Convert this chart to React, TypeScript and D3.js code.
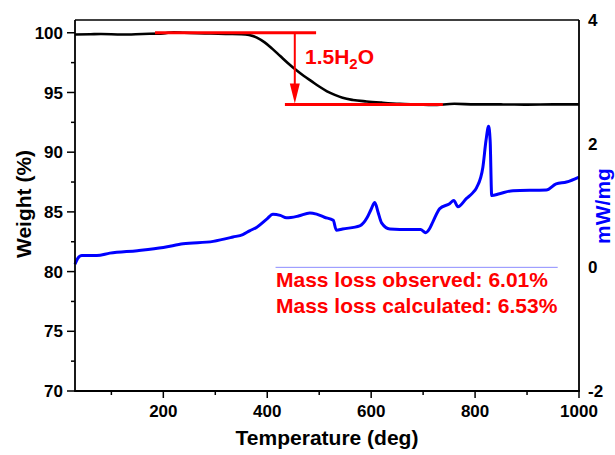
import React from "react";
import * as d3 from "d3";

const tgaTemp = [30, 60, 80, 120, 160, 200, 220, 240, 280, 320, 350, 365, 380, 395, 410, 425, 440, 455, 470, 485, 500, 515, 530, 545, 565, 591, 620, 655, 690, 718, 760, 800, 850, 900, 950, 1000];
const tgaWeight = [99.85, 99.88, 99.9, 99.85, 99.9, 99.95, 100.05, 100.0, 99.95, 99.9, 99.88, 99.82, 99.6, 99.2, 98.65, 98.05, 97.45, 96.9, 96.4, 95.95, 95.5, 95.1, 94.8, 94.55, 94.37, 94.25, 94.15, 94.05, 94.0, 93.95, 94.05, 94.0, 94.0, 93.98, 94.0, 94.0];

const dscTemp = [30, 35, 43, 72, 97, 150, 200, 238, 296, 334, 353, 366, 380, 399, 411, 425, 437, 460, 482, 495, 510, 527, 533, 545, 578, 592, 600, 607, 613, 620, 636, 674, 695, 705, 712, 719, 732, 751, 759, 767, 783, 795, 803, 815, 821, 826, 829, 832, 847, 873, 937, 956, 976, 1000];
const dscValue = [0.05, 0.14, 0.19, 0.19, 0.23, 0.27, 0.32, 0.38, 0.42, 0.49, 0.53, 0.59, 0.65, 0.78, 0.86, 0.84, 0.8, 0.83, 0.88, 0.86, 0.81, 0.76, 0.6, 0.62, 0.67, 0.8, 0.94, 1.05, 0.9, 0.72, 0.62, 0.61, 0.61, 0.56, 0.62, 0.74, 0.95, 1.03, 1.08, 0.98, 1.11, 1.2, 1.29, 1.62, 2.05, 2.28, 2.05, 1.16, 1.19, 1.24, 1.25, 1.35, 1.38, 1.46];

const xTicks = [200, 400, 600, 800, 1000];
const xMinor = [100, 300, 500, 700, 900];
const yTicks = [70, 75, 80, 85, 90, 95, 100];
const yMinor = [72.5, 77.5, 82.5, 87.5, 92.5, 97.5];
const y2Ticks = [-2, 0, 2, 4];

const waterLabel = ["1.5H", "2", "O"];
const massLossLines = ["Mass loss observed: 6.01%", "Mass loss calculated: 6.53%"];
const stepTop = { t0: 184, t1: 494, w: 100 };
const stepBottom = { t0: 434, t1: 738, w: 94.0 };
const arrowT = 453;
const refLine = { t0: 416, t1: 959, v: 0 };

const W = 615;
const H = 455;
const M = { left: 75, top: 20, right: 36, bottom: 64 };
const FONT = "Arial, 'Liberation Sans', sans-serif";

export default function App() {
  const x = d3.scaleLinear().domain([30, 1000]).range([M.left, W - M.right]);
  const y = d3.scaleLinear().domain([70, 101.07]).range([H - M.bottom, M.top]);
  const y2 = d3.scaleLinear().domain([-2, 4]).range([H - M.bottom, M.top]);

  const tga = tgaTemp.map((t, i) => [t, tgaWeight[i]] as [number, number]);
  const dsc = dscTemp.map((t, i) => [t, dscValue[i]] as [number, number]);

  const tgaLine = d3.line<[number, number]>().x((d) => x(d[0])).y((d) => y(d[1])).curve(d3.curveMonotoneX);
  const dscLine = d3.line<[number, number]>().x((d) => x(d[0])).y((d) => y2(d[1])).curve(d3.curveMonotoneX);

  const x0 = M.left;
  const x1 = W - M.right;
  const yb = H - M.bottom;
  const yt = M.top;

  const ax = x(arrowT);
  const ayTop = y(stepTop.w);
  const ayBot = y(stepBottom.w);

  return (
    <svg width={W} height={H} style={{ position: "absolute", left: 0, top: 0, background: "#fff" }} fontFamily={FONT}>
      <rect x={0} y={0} width={W} height={H} fill="#fff" />
      <line x1={x(refLine.t0)} x2={x(refLine.t1)} y1={y2(refLine.v)} y2={y2(refLine.v)} stroke="#8c8cff" strokeWidth={1} />
      <path d={dscLine(dsc) || ""} fill="none" stroke="#0000ff" strokeWidth={3} strokeLinejoin="round" />
      <path d={tgaLine(tga) || ""} fill="none" stroke="#000" strokeWidth={2.6} strokeLinejoin="round" />
      <line x1={x(stepTop.t0)} x2={x(stepTop.t1)} y1={y(stepTop.w)} y2={y(stepTop.w)} stroke="#ff0000" strokeWidth={3} />
      <line x1={x(stepBottom.t0)} x2={x(stepBottom.t1)} y1={y(stepBottom.w)} y2={y(stepBottom.w)} stroke="#ff0000" strokeWidth={3} />
      <line x1={ax} x2={ax} y1={ayTop} y2={ayBot - 18} stroke="#ff0000" strokeWidth={2} />
      <path d={`M${ax - 5},${ayBot - 21} L${ax + 5},${ayBot - 21} L${ax},${ayBot - 1} Z`} fill="#ff0000" />
      <text x={305} y={64} fill="#ff0000" fontSize={21} fontWeight="bold">
        {waterLabel[0]}
        <tspan fontSize={15} dy={5}>{waterLabel[1]}</tspan>
        <tspan fontSize={21} dy={-5}>{waterLabel[2]}</tspan>
      </text>
      {massLossLines.map((s, i) => (
        <text key={s} x={276} y={287 + i * 26} fill="#ff0000" fontSize={21} fontWeight="bold">{s}</text>
      ))}
      <line x1={x0} x2={x1} y1={yt} y2={yt} stroke="#000" strokeWidth={1.5} />
      <line x1={x1} x2={x1} y1={yt} y2={yb} stroke="#000" strokeWidth={1.8} />
      <line x1={x0} x2={x0} y1={yt} y2={yb} stroke="#000" strokeWidth={1.8} />
      <line x1={x0 - 0.9} x2={x1 + 0.9} y1={yb} y2={yb} stroke="#000" strokeWidth={1.8} />
      {xTicks.map((t) => (
        <g key={t}>
          <line x1={x(t)} x2={x(t)} y1={yb} y2={yb + 7} stroke="#000" strokeWidth={1.5} />
          <text x={x(t)} y={417} textAnchor="middle" fontSize={17} fontWeight="bold">{t}</text>
        </g>
      ))}
      {xMinor.map((t) => (
        <line key={t} x1={x(t)} x2={x(t)} y1={yb} y2={yb + 4} stroke="#000" strokeWidth={1.5} />
      ))}
      {yTicks.map((t) => (
        <g key={t}>
          <line x1={x0 - 8} x2={x0} y1={y(t)} y2={y(t)} stroke="#000" strokeWidth={1.5} />
          <text x={63} y={y(t)} dy="0.36em" textAnchor="end" fontSize={17} fontWeight="bold">{t}</text>
        </g>
      ))}
      {yMinor.map((t) => (
        <line key={t} x1={x0 - 4} x2={x0} y1={y(t)} y2={y(t)} stroke="#000" strokeWidth={1.5} />
      ))}
      {y2Ticks.map((t) => (
        <text key={t} x={588} y={y2(t)} dy="0.36em" fontSize={17} fontWeight="bold">{t}</text>
      ))}
      <text x={327} y={445} textAnchor="middle" fontSize={21} fontWeight="bold">Temperature (deg)</text>
      <text transform={`translate(31,204) rotate(-90)`} textAnchor="middle" fontSize={21} fontWeight="bold">Weight (%)</text>
      <text transform={`translate(610,206) rotate(-90)`} textAnchor="middle" fontSize={21} fontWeight="bold" fill="#0000ff">mW/mg</text>
    </svg>
  );
}
